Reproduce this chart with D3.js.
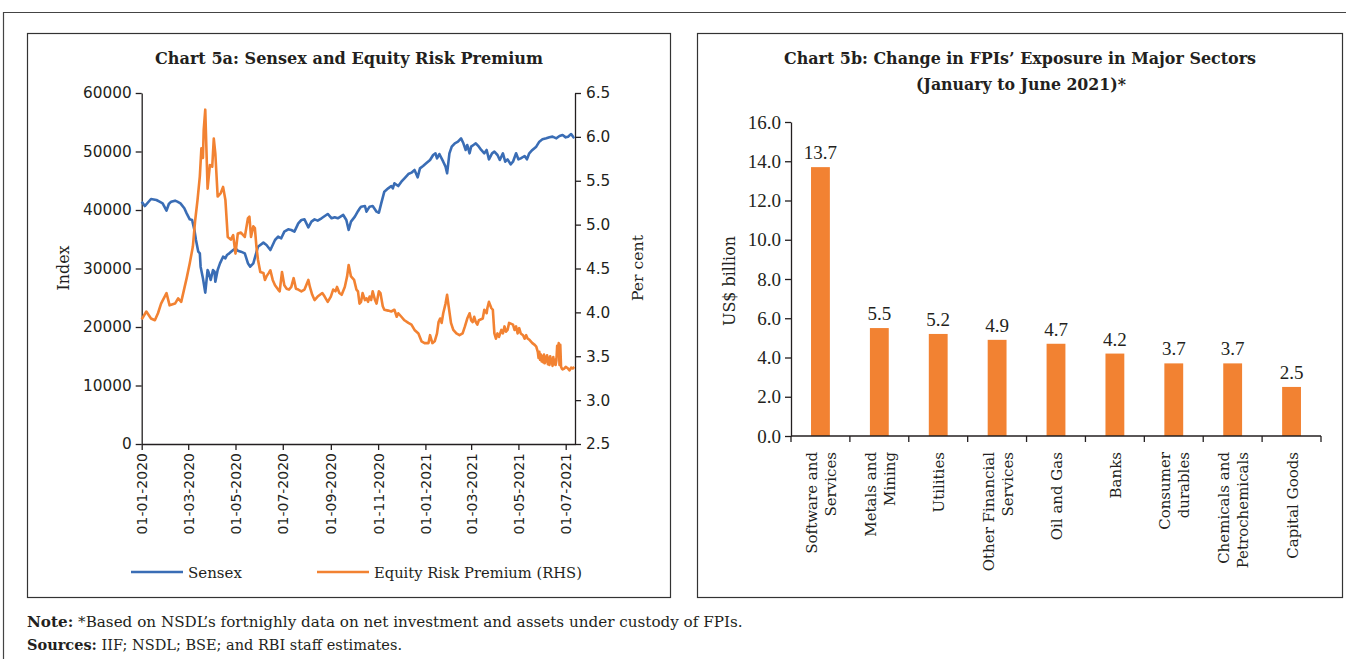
<!DOCTYPE html>
<html><head><meta charset="utf-8">
<script src="https://cdn.jsdelivr.net/npm/d3@7"></script>
<style>
html,body{margin:0;padding:0;background:#fff;}
svg{display:block;}
</style></head>
<body>
<svg id="c" width="1346" height="659"></svg>
<script>
// ---------------- DATA ----------------
const sensexDates = ["2020-01-01","2020-01-05","2020-01-13","2020-01-20","2020-01-24","2020-01-28","2020-02-02","2020-02-05","2020-02-08","2020-02-13","2020-02-16","2020-02-20","2020-02-25","2020-02-28","2020-03-03","2020-03-06","2020-03-09","2020-03-11","2020-03-14","2020-03-16","2020-03-17","2020-03-20","2020-03-23","2020-03-26","2020-03-27","2020-03-30","2020-04-02","2020-04-04","2020-04-05","2020-04-08","2020-04-11","2020-04-15","2020-04-18","2020-04-20","2020-04-23","2020-04-28","2020-05-01","2020-05-04","2020-05-08","2020-05-13","2020-05-17","2020-05-20","2020-05-24","2020-05-30","2020-06-06","2020-06-10","2020-06-15","2020-06-21","2020-06-25","2020-06-29","2020-07-03","2020-07-08","2020-07-12","2020-07-16","2020-07-21","2020-07-25","2020-07-29","2020-08-03","2020-08-07","2020-08-11","2020-08-15","2020-08-20","2020-08-28","2020-09-02","2020-09-06","2020-09-10","2020-09-17","2020-09-21","2020-09-24","2020-09-27","2020-10-02","2020-10-06","2020-10-08","2020-10-10","2020-10-15","2020-10-17","2020-10-21","2020-10-25","2020-10-30","2020-11-02","2020-11-05","2020-11-09","2020-11-14","2020-11-18","2020-11-20","2020-11-22","2020-11-27","2020-12-01","2020-12-05","2020-12-10","2020-12-14","2020-12-18","2020-12-22","2020-12-25","2020-12-29","2021-01-02","2021-01-07","2021-01-11","2021-01-14","2021-01-16","2021-01-19","2021-01-24","2021-01-27","2021-01-29","2021-02-01","2021-02-04","2021-02-08","2021-02-12","2021-02-16","2021-02-19","2021-02-22","2021-02-24","2021-02-27","2021-03-01","2021-03-04","2021-03-07","2021-03-11","2021-03-14","2021-03-18","2021-03-21","2021-03-24","2021-03-28","2021-03-31","2021-04-04","2021-04-07","2021-04-11","2021-04-14","2021-04-17","2021-04-21","2021-04-24","2021-04-28","2021-05-01","2021-05-04","2021-05-09","2021-05-12","2021-05-15","2021-05-19","2021-05-24","2021-05-28","2021-06-01","2021-06-06","2021-06-10","2021-06-14","2021-06-19","2021-06-23","2021-06-27","2021-07-01","2021-07-04","2021-07-08","2021-07-11","2021-07-12"];
const sensexValues = [41430,40680,41880,41710,41430,41140,39890,41030,41430,41600,41430,41140,40290,39430,38400,38290,36580,34870,32880,32590,30310,28320,25870,29740,29460,28030,29740,29460,27750,29740,30880,32020,31740,32310,32590,33160,33450,33050,32880,32590,30900,30310,30880,33730,34420,34020,33160,34870,35440,35160,36300,36700,36580,36300,37720,38290,38400,37040,38010,38400,38180,38580,39320,38580,38750,38580,39150,38290,36580,38010,38860,39800,40200,40570,40680,39720,40570,40680,39720,39540,41140,43130,43700,44100,43700,44560,44100,44840,45410,46150,46380,46840,45580,47120,47520,47980,48550,49400,49690,48830,49570,48260,47410,46270,49690,50830,51400,51680,52250,51400,50260,51110,49690,50830,51110,51400,50830,50260,49690,50260,48660,49690,49970,49400,48550,49690,48260,48660,47810,48260,49690,48660,48830,49230,48660,49690,50260,50830,51680,52080,52250,52420,52540,52250,52650,52820,52420,52540,52990,52420,52540];

const erpDates = ["2020-01-01","2020-01-07","2020-01-13","2020-01-18","2020-01-22","2020-01-26","2020-02-02","2020-02-06","2020-02-13","2020-02-17","2020-02-21","2020-02-28","2020-03-03","2020-03-07","2020-03-10","2020-03-13","2020-03-16","2020-03-18","2020-03-20","2020-03-21","2020-03-23","2020-03-26","2020-03-29","2020-04-01","2020-04-03","2020-04-05","2020-04-08","2020-04-12","2020-04-15","2020-04-18","2020-04-21","2020-04-25","2020-04-28","2020-05-01","2020-05-04","2020-05-08","2020-05-13","2020-05-17","2020-05-19","2020-05-21","2020-05-24","2020-05-26","2020-05-28","2020-05-30","2020-06-02","2020-06-06","2020-06-08","2020-06-10","2020-06-13","2020-06-15","2020-06-18","2020-06-21","2020-06-25","2020-06-27","2020-06-30","2020-07-03","2020-07-06","2020-07-09","2020-07-12","2020-07-15","2020-07-18","2020-07-21","2020-07-25","2020-07-29","2020-08-03","2020-08-05","2020-08-08","2020-08-11","2020-08-15","2020-08-18","2020-08-21","2020-08-24","2020-08-28","2020-09-01","2020-09-04","2020-09-07","2020-09-09","2020-09-12","2020-09-15","2020-09-19","2020-09-22","2020-09-24","2020-09-27","2020-10-01","2020-10-04","2020-10-06","2020-10-08","2020-10-10","2020-10-12","2020-10-15","2020-10-17","2020-10-19","2020-10-21","2020-10-23","2020-10-25","2020-10-28","2020-10-30","2020-11-02","2020-11-04","2020-11-07","2020-11-09","2020-11-14","2020-11-18","2020-11-22","2020-11-25","2020-11-27","2020-12-01","2020-12-05","2020-12-10","2020-12-14","2020-12-18","2020-12-23","2020-12-27","2020-12-31","2021-01-05","2021-01-07","2021-01-10","2021-01-13","2021-01-16","2021-01-18","2021-01-20","2021-01-22","2021-01-24","2021-01-27","2021-01-29","2021-01-31","2021-02-03","2021-02-06","2021-02-10","2021-02-14","2021-02-18","2021-02-21","2021-02-24","2021-02-27","2021-03-01","2021-03-03","2021-03-05","2021-03-07","2021-03-09","2021-03-11","2021-03-16","2021-03-18","2021-03-21","2021-03-22","2021-03-24","2021-03-27","2021-03-29","2021-03-31","2021-04-02","2021-04-04","2021-04-06","2021-04-09","2021-04-11","2021-04-13","2021-04-15","2021-04-17","2021-04-19","2021-04-24","2021-04-26","2021-04-28","2021-04-30","2021-05-02","2021-05-04","2021-05-07","2021-05-09","2021-05-11","2021-05-13","2021-05-15","2021-05-17","2021-05-19","2021-05-22","2021-05-24","2021-05-26","2021-05-27","2021-05-28","2021-05-29","2021-05-30","2021-05-31","2021-06-01","2021-06-02","2021-06-03","2021-06-04","2021-06-05","2021-06-06","2021-06-07","2021-06-08","2021-06-09","2021-06-10","2021-06-11","2021-06-12","2021-06-13","2021-06-14","2021-06-15","2021-06-16","2021-06-17","2021-06-18","2021-06-19","2021-06-20","2021-06-21","2021-06-22","2021-06-23","2021-06-24","2021-06-25","2021-06-26","2021-06-27","2021-06-29","2021-07-01","2021-07-04","2021-07-06","2021-07-08","2021-07-10","2021-07-12"];
const erpValues = [3.92,4.01,3.93,3.91,3.99,4.10,4.22,4.08,4.10,4.16,4.12,4.39,4.56,4.75,5.05,5.28,5.55,5.87,5.76,6.08,6.31,5.41,5.68,5.66,5.98,5.81,5.32,5.36,5.43,5.28,4.86,4.83,4.88,4.67,4.90,4.91,4.86,5.07,5.09,4.86,4.98,4.96,4.75,4.60,4.46,4.45,4.37,4.41,4.45,4.48,4.37,4.31,4.26,4.24,4.46,4.31,4.27,4.26,4.29,4.39,4.27,4.26,4.24,4.26,4.37,4.29,4.20,4.14,4.18,4.20,4.22,4.18,4.12,4.18,4.26,4.24,4.29,4.22,4.20,4.29,4.41,4.54,4.41,4.37,4.26,4.24,4.10,4.12,4.22,4.14,4.16,4.12,4.18,4.14,4.24,4.14,4.10,4.24,4.22,4.07,4.03,4.02,4.01,4.03,3.95,3.99,3.95,3.91,3.88,3.86,3.80,3.76,3.67,3.65,3.65,3.74,3.65,3.67,3.76,3.89,3.93,3.88,3.99,4.10,4.20,4.07,3.88,3.80,3.76,3.74,3.76,3.84,3.93,3.99,3.91,3.89,3.95,3.89,3.86,3.91,3.93,4.03,3.99,4.05,4.12,4.05,4.03,3.76,3.70,3.76,3.72,3.80,3.76,3.84,3.78,3.80,3.88,3.86,3.80,3.84,3.76,3.82,3.76,3.74,3.70,3.74,3.70,3.69,3.67,3.65,3.63,3.61,3.55,3.48,3.55,3.46,3.52,3.44,3.50,3.43,3.52,3.42,3.49,3.44,3.51,3.41,3.48,3.40,3.50,3.42,3.47,3.39,3.49,3.41,3.46,3.40,3.45,3.62,3.58,3.65,3.40,3.63,3.38,3.36,3.35,3.36,3.38,3.36,3.34,3.37,3.36,3.38];

const dateTicks = ["2020-01-01","2020-03-01","2020-05-01","2020-07-01","2020-09-01","2020-11-01","2021-01-01","2021-03-01","2021-05-01","2021-07-01"];
const indexTicks = [0,10000,20000,30000,40000,50000,60000];
const erpTicks = [2.5,3.0,3.5,4.0,4.5,5.0,5.5,6.0,6.5];

const sectors = [["Software and","Services"],["Metals and","Mining"],["Utilities"],["Other Financial","Services"],["Oil and Gas"],["Banks"],["Consumer","durables"],["Chemicals and","Petrochemicals"],["Capital Goods"]];
const exposure = [13.7,5.5,5.2,4.9,4.7,4.2,3.7,3.7,2.5];
const exposureTicks = [0,2,4,6,8,10,12,14,16];

// ---------------- DRAW ----------------
const svg = d3.select("#c");
const BLUE = "#3a6db5", ORANGE = "#f28232", INK = "#231f20";
const SERIF = "'DejaVu Serif', serif";
const NUMSERIF = "'Liberation Serif', serif";
const SANS = "'DejaVu Sans', sans-serif";
const parse = d3.timeParse("%Y-%m-%d");

// scale a text's font-size so its rendered width equals a target width
function fit(sel, target){
  const n = sel.node();
  const fs = parseFloat(sel.attr("font-size"));
  const w = n.getComputedTextLength();
  if (w > 0) sel.attr("font-size", (fs*target/w).toFixed(2));
  return sel;
}

// frames
svg.append("path").attr("d","M3.5,659 L3.5,12.5 L1346,12.5").attr("fill","none").attr("stroke","#444").attr("stroke-width",1.2);
svg.append("rect").attr("x",27.5).attr("y",33.5).attr("width",643).attr("height",564).attr("fill","none").attr("stroke","#333").attr("stroke-width",1.2);
svg.append("rect").attr("x",697.5).attr("y",33.5).attr("width",645).attr("height",564).attr("fill","none").attr("stroke","#333").attr("stroke-width",1.2);

// ---- Chart 5a ----
const x = d3.scaleTime().domain([parse("2020-01-01"), parse("2021-07-13")]).range([141.7, 575]);
const yL = d3.scaleLinear().domain([0,60000]).range([444,93]);
const yR = d3.scaleLinear().domain([2.5,6.5]).range([444,93]);

fit(svg.append("text").attr("x",349).attr("y",64).attr("text-anchor","middle")
  .attr("font-family",SERIF).attr("font-weight","bold").attr("font-size",16).attr("fill",INK)
  .text("Chart 5a: Sensex and Equity Risk Premium"), 388);

const gL = svg.append("g").attr("transform","translate(141.7,0)")
  .call(d3.axisLeft(yL).tickValues(indexTicks).tickFormat(d3.format("d")).tickSize(6).tickSizeOuter(0));
const gR = svg.append("g").attr("transform","translate(575,0)")
  .call(d3.axisRight(yR).tickValues(erpTicks).tickFormat(d3.format(".1f")).tickSize(6).tickSizeOuter(0));
const gX = svg.append("g").attr("transform","translate(0,444)")
  .call(d3.axisBottom(x).tickValues(dateTicks.map(parse)).tickFormat(d3.timeFormat("%d-%m-%Y")).tickSize(6).tickSizeOuter(0));
[gL,gR,gX].forEach(g=>{
  g.selectAll("path,line").attr("stroke",INK).attr("stroke-width",1.3);
  g.selectAll("text").attr("font-family",SANS).attr("font-size",15.3).attr("fill",INK);
});
gL.selectAll("text").attr("x",-10);
gR.selectAll("text").attr("x",11);
gX.selectAll("text").attr("font-size",14).attr("transform","rotate(-90)").attr("text-anchor","end")
  .attr("x",-9).attr("y",0).attr("dy","0.35em");

fit(svg.append("text").attr("transform","translate(69,268) rotate(-90)").attr("text-anchor","middle")
  .attr("font-family",SERIF).attr("font-size",15).attr("fill",INK).text("Index"), 45);
fit(svg.append("text").attr("transform","translate(643,268) rotate(-90)").attr("text-anchor","middle")
  .attr("font-family",SERIF).attr("font-size",15).attr("fill",INK).text("Per cent"), 66);

const lineL = d3.line().x((d,i)=>x(parse(sensexDates[i]))).y(d=>yL(d));
const lineR = d3.line().x((d,i)=>x(parse(erpDates[i]))).y(d=>yR(d));
svg.append("path").datum(sensexValues).attr("d",lineL).attr("fill","none").attr("stroke",BLUE).attr("stroke-width",2.6).attr("stroke-linejoin","round");
svg.append("path").datum(erpValues).attr("d",lineR).attr("fill","none").attr("stroke",ORANGE).attr("stroke-width",2.6).attr("stroke-linejoin","round");

// legend
const leg = [{t:"Sensex",c:BLUE,x:131,w:54},{t:"Equity Risk Premium (RHS)",c:ORANGE,x:317,w:208}];
leg.forEach(l=>{
  svg.append("line").attr("x1",l.x).attr("x2",l.x+52).attr("y1",572).attr("y2",572).attr("stroke",l.c).attr("stroke-width",2.6);
  fit(svg.append("text").attr("x",l.x+57).attr("y",578).attr("font-family",SERIF).attr("font-size",15).attr("fill",INK).text(l.t), l.w);
});

// ---- Chart 5b ----
fit(svg.append("text").attr("x",1020).attr("y",64).attr("text-anchor","middle")
  .attr("font-family",SERIF).attr("font-weight","bold").attr("font-size",16).attr("fill",INK)
  .text("Chart 5b: Change in FPIs\u2019 Exposure in Major Sectors"), 472);
fit(svg.append("text").attr("x",1021).attr("y",90).attr("text-anchor","middle")
  .attr("font-family",SERIF).attr("font-weight","bold").attr("font-size",16).attr("fill",INK)
  .text("(January to June 2021)*"), 210);

const xb = d3.scaleBand().domain(d3.range(sectors.length)).range([791,1321]).paddingInner(0.68).paddingOuter(0.34);
const yb = d3.scaleLinear().domain([0,16]).range([436,122]);

const gYb = svg.append("g").attr("transform","translate(791,0)")
  .call(d3.axisLeft(yb).tickValues(exposureTicks).tickFormat(d3.format(".1f")).tickSize(6).tickSizeOuter(0));
gYb.selectAll("path,line").attr("stroke",INK).attr("stroke-width",1.3);
gYb.selectAll("text").attr("font-family",NUMSERIF).attr("font-size",19).attr("fill",INK).attr("x",-10);

svg.selectAll("rect.bar").data(exposure).enter().append("rect").attr("class","bar")
  .attr("x",(d,i)=>xb(i)).attr("width",xb.bandwidth())
  .attr("y",d=>yb(d)).attr("height",d=>yb(0)-yb(d)).attr("fill",ORANGE);
svg.selectAll("text.val").data(exposure).enter().append("text").attr("class","val")
  .attr("x",(d,i)=>xb(i)+xb.bandwidth()/2).attr("y",d=>yb(d)-8).attr("text-anchor","middle")
  .attr("font-family",NUMSERIF).attr("font-size",19).attr("fill",INK).text(d=>d3.format(".1f")(d));

// x axis line and boundary ticks
const step = xb.step();
svg.append("line").attr("x1",791).attr("x2",1321).attr("y1",436).attr("y2",436).attr("stroke",INK).attr("stroke-width",1.3);
d3.range(sectors.length+1).forEach(i=>{
  const xx = 791 + i*step;
  svg.append("line").attr("x1",xx).attr("x2",xx).attr("y1",436).attr("y2",442).attr("stroke",INK).attr("stroke-width",1.3);
});
sectors.forEach((lines,i)=>{
  const cx = xb(i)+xb.bandwidth()/2;
  const n = lines.length;
  lines.forEach((t,j)=>{
    const off = (j-(n-1)/2)*19;
    svg.append("text").attr("transform",`translate(${cx+off+6},452) rotate(-90)`).attr("text-anchor","end")
      .attr("font-family",SERIF).attr("font-size",15).attr("fill",INK).text(t);
  });
});
fit(svg.append("text").attr("transform","translate(735,281) rotate(-90)").attr("text-anchor","middle")
  .attr("font-family",SERIF).attr("font-size",15).attr("fill",INK).text("US$ billion"), 90);

// footer
const foot = [["Note:"," *Based on NSDL\u2019s fortnighly data on net investment and assets under custody of FPIs.",627,716],["Sources:"," IIF; NSDL; BSE; and RBI staff estimates.",650,375]];
foot.forEach(f=>{
  const t = svg.append("text").attr("x",27).attr("y",f[2]).attr("font-family",SERIF).attr("font-size",14).attr("fill",INK);
  t.append("tspan").attr("font-weight","bold").text(f[0]);
  t.append("tspan").text(f[1]);
  fit(t, f[3]);
});
</script>
</body></html>
